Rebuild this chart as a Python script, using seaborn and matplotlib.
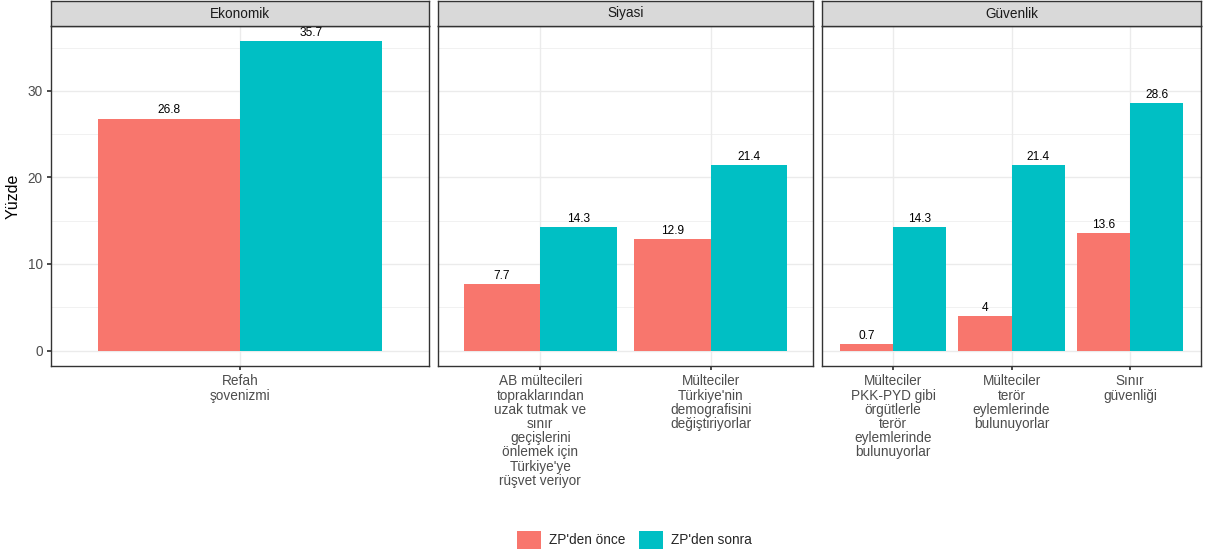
import matplotlib
matplotlib.use("Agg")
import matplotlib.pyplot as plt
import seaborn as sns
import pandas as pd
from matplotlib.patches import Patch

facets = ["Ekonomik", "Siyasi", "Güvenlik"]
categories = [
    ["Refah\nşovenizmi"],
    ["AB mültecileri\ntopraklarından\nuzak tutmak ve\nsınır\ngeçişlerini\nönlemek için\nTürkiye'ye\nrüşvet veriyor",
     "Mülteciler\nTürkiye'nin\ndemografisini\ndeğiştiriyorlar"],
    ["Mülteciler\nPKK-PYD gibi\nörgütlerle\nterör\neylemlerinde\nbulunuyorlar",
     "Mülteciler\nterör\neylemlerinde\nbulunuyorlar",
     "Sınır\ngüvenliği"],
]
before = [[26.8], [7.7, 12.9], [0.7, 4, 13.6]]
after = [[35.7], [14.3, 21.4], [14.3, 21.4, 28.6]]
series = ["ZP'den önce", "ZP'den sonra"]
colors = ["#F8766D", "#00BFC4"]

sns.set_theme(style="white")
plt.rcParams["font.family"] = ["Liberation Sans", "DejaVu Sans"]

W, H = 1208, 558
fig = plt.figure(figsize=(W / 100, H / 100), dpi=100)

panels_px = [(51, 429), (438, 813), (822, 1201)]
top_px, bot_px = 26, 366
strip_top = 1
ymin, ymax = -1.785, 37.485
grid_col = "#EBEBEB"
edge_col = "#333333"

for i, (facet, (l, r)) in enumerate(zip(facets, panels_px)):
    ax = fig.add_axes([l / W, (H - bot_px) / H, (r - l) / W, (bot_px - top_px) / H])
    rows = []
    for c, b, a in zip(categories[i], before[i], after[i]):
        rows.append({"cat": c, "series": series[0], "val": b})
        rows.append({"cat": c, "series": series[1], "val": a})
    df = pd.DataFrame(rows)
    sns.barplot(data=df, x="cat", y="val", hue="series", order=categories[i],
                hue_order=series, palette=colors, width=0.9, gap=0,
                saturation=1, ax=ax, legend=False, errorbar=None, zorder=3,
                linewidth=0)
    n = len(categories[i])
    ax.set_xlim(-0.6, n - 0.4)
    ax.set_ylim(ymin, ymax)
    ax.set_yticks([0, 10, 20, 30])
    ax.set_yticks([5, 15, 25, 35], minor=True)
    ax.grid(True, which="major", color=grid_col, linewidth=1.0, zorder=0)
    ax.grid(True, which="minor", axis="y", color=grid_col, linewidth=0.5, zorder=0)
    ax.set_axisbelow(True)
    for cont in ax.containers:
        ax.bar_label(cont, labels=[f"{v:g}" for v in cont.datavalues],
                     fontsize=8.6, color="black", padding=1.5)
    for sp in ax.spines.values():
        sp.set_visible(True)
        sp.set_color(edge_col)
        sp.set_linewidth(1.0)
    ax.set_xlabel("")
    ax.set_ylabel("")
    ax.tick_params(axis="x", which="major", length=3, color=edge_col, pad=3,
                   labelsize=9.8, labelcolor="#4D4D4D", bottom=True)
    for t in ax.get_xticklabels():
        t.set_linespacing(1.02)
    ax.tick_params(axis="y", which="minor", length=0)
    if i == 0:
        ax.tick_params(axis="y", which="major", length=3, color=edge_col, pad=3,
                       labelsize=9.8, labelcolor="#4D4D4D", left=True)
        ax.set_ylabel("Yüzde", fontsize=11.5, color="black", labelpad=5)
    else:
        ax.tick_params(axis="y", which="major", length=0, labelleft=False)

    sax = fig.add_axes([l / W, (H - top_px) / H, (r - l) / W, (top_px - strip_top) / H])
    sax.set_xticks([])
    sax.set_yticks([])
    sax.set_facecolor("#D9D9D9")
    for sp in sax.spines.values():
        sp.set_color(edge_col)
        sp.set_linewidth(1.0)
    sax.text(0.5, 0.5, facet, ha="center", va="center", fontsize=9.8, color="#1A1A1A",
             transform=sax.transAxes)

handles = [Patch(facecolor=c, edgecolor="none", label=s) for c, s in zip(colors, series)]
fig.legend(handles=handles, loc="center", bbox_to_anchor=(0.525, (H - 540) / H), ncol=2,
           frameon=False, fontsize=9.8, handlelength=1.75, handleheight=1.75,
           columnspacing=1.0, handletextpad=0.6)

fig.savefig("out.png", dpi=100)
